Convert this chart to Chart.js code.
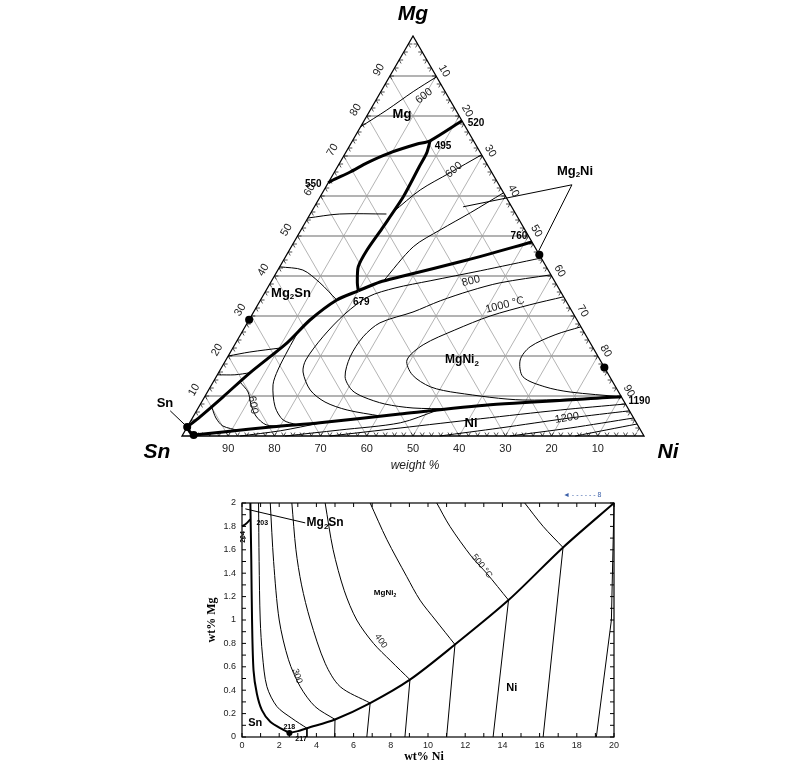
<!DOCTYPE html>
<html>
<head>
<meta charset="utf-8">
<script src="https://cdn.jsdelivr.net/npm/chart.js@4.4.1/dist/chart.umd.min.js"></script>
<style>
  body { margin: 0; background: #fff; }
  #wrap { position: relative; width: 810px; height: 775px; }
  canvas { position: absolute; left: 0; }
  #tern { top: 0; }
  #zoom { top: 480px; }
</style>
</head>
<body>
<div id="wrap">
  <canvas id="tern" width="810" height="480"></canvas>
  <canvas id="zoom" width="810" height="295"></canvas>
</div>
<script>
// ---------- ternary Mg-Ni-Sn, points are [wt% Mg, wt% Ni] ----------
const gridSteps = [10, 20, 30, 40, 50, 60, 70, 80, 90];

// thick phase boundaries (valleys)
const b550to520 = [[63.3,0],[64.0,0.7],[66.0,3.4],[68.3,5.9],[70.8,9.6],[73.0,14.4],[73.8,16.8],[78.8,21.2]];
const b495to679 = [[73.8,16.8],[70.7,17.6],[67.3,17.7],[59.8,18.0],[52.3,17.4],[46.5,16.8],[42.3,17.0],[38.3,18.8],[36.3,20.0]];
const b679to760 = [[36.3,20.0],[38.5,23.6],[39.8,27.3],[44.0,39.7],[48.5,51.5]];
const b679toSn = [[36.3,20.0],[34.0,16.5],[29.0,13.2],[23.3,11.1],[15.8,6.8],[9.8,4.0],[4.8,1.5],[2.25,0]];
const b1190toSn = [[9.8,90.2],[7.8,62.8],[5.5,44.4],[3.3,28.2],[2.3,18.6],[1.0,8.4],[0.25,2.4]];
const bSnCorner = [[2.25,0],[1.2,1.0],[0.25,2.4]];

// thin isotherms
const isoMg600 = [[77.3,0],[81.5,3.6],[86.1,7.0],[89.8,10.2]];
const isoSnA = [[54.5,0],[55.5,6.4],[55.5,16.5]];
const isoSnB = [[42.3,0],[41.5,5.4],[38.3,10.7],[34.0,16.5]];
const isoSnC = [[20.0,0],[21.0,4.2],[22.0,10.3]];
const isoSnD = [[15.3,0],[15.3,3.8],[15.8,6.8]];
const isoMg2NiA = [[56.0,17.7],[61.5,20.8],[65.8,25.1],[70.3,29.7]];
const isoMg2NiB = [[38.6,24.2],[47.3,26.4],[51.5,30.1],[55.8,34.5],[60.8,39.2]];
const isoU1 = [[44.5,55.5],[41.3,43.9],[38.8,34.3],[37.0,27.6],[34.8,22.9],[30.5,20.0],[24.8,18.1],[19.0,17.3],[16.0,18.2],[11.5,22.0],[8.5,26.7],[6.5,32.5],[5.0,40.4]];
const isoU2 = [[40.3,59.7],[38.3,49.7],[36.3,44.2],[33.8,39.0],[31.0,34.5],[28.3,28.7],[24.8,26.8],[19.8,26.5],[14.8,27.9],[11.5,31.0],[9.8,34.3],[8.0,39.9],[7.0,46.5],[6.8,54.5]];
const isoU3 = [[34.8,65.2],[32.8,58.9],[30.0,51.7],[26.5,45.8],[22.8,40.8],[19.0,39.2],[15.3,42.2],[12.3,47.6],[10.8,54.1],[9.0,69.3],[9.8,90.2]];
const isoU4 = [[27.3,72.7],[25.3,68.1],[22.3,64.2],[19.0,63.7],[14.8,66.4],[12.3,72.4],[11.0,78.5],[9.8,90.2]];
const isoS1 = [[7.0,3.0],[4.5,5.1],[2.5,7.6],[1.4,11.5]];
const isoS2 = [[13.5,5.8],[11.0,8.8],[8.0,10.9],[5.0,13.5],[2.8,16.8],[2.45,20.5]];
const isoS3 = [[26.0,12.1],[21.5,12.2],[16.5,12.5],[12.8,13.3],[7.3,16.5],[4.0,19.9],[2.8,23.5]];
const isoN1 = [[0,32.0],[2.0,46.2],[4.3,62.4],[6.5,78.6],[8.0,92.0]];
const isoN2 = [[0,55.8],[2.0,67.8],[4.5,81.7],[6.3,93.7]];
const isoN3 = [[0,71.0],[2.0,83.0],[4.5,95.5]];
const isoN4 = [[0,85.1],[3.0,97.0]];
const isoL1 = [[0,12.6],[1.3,20.6],[3.3,28.5]];
const isoL2 = [[0,22.3],[1.5,33.4],[3.3,45.6],[6.4,52.0]];

const leadMg2NiA = [[62.8,53.0],[57.3,32.2]];
const leadMg2NiB = [[62.8,53.0],[46.0,54.1]];
const leadSn = [[6.3,-5.7],[2.25,0]];
const phaseDots = [[29.05,0],[45.3,54.7],[17.15,82.85],[2.25,0],[0.25,2.4]];

// point labels: text, [Mg, Ni], pixel offset
const pointLabels = [
  ['520', [78.8,21.2], 14, 2], ['495', [73.8,16.8], 13, 5], ['550', [63.3,0], -15, 1],
  ['760', [48.5,51.5], -13, -6], ['679', [36.3,20.0], 3, 11], ['1190', [9.8,90.2], 18, 4]
];

// ---------- enlarged Sn corner, points are [wt% Ni, wt% Mg] ----------
const zLiqSn = [[0.45,2.0],[0.5,1.5],[0.54,1.0],[0.62,0.57],[0.8,0.37],[1.07,0.23],[1.52,0.13],[2.23,0.06],[2.55,0.035]];
const zLiqNi = [[2.55,0.035],[3.0,0.05],[3.49,0.075],[5.0,0.15],[6.89,0.29],[9.03,0.49],[11.45,0.79],[14.33,1.17],[17.26,1.62],[20,2.0]];
const zMg2Sn = [[0.0,1.8],[0.2,1.82],[0.45,1.86]];
const zLeader = [[0.18,1.95],[3.4,1.83]];
const zIso250 = [[0.89,2.0],[0.92,1.5],[0.98,1.0],[1.1,0.7],[1.34,0.43],[1.88,0.26],[2.68,0.16],[3.49,0.075]];
const zIso300 = [[1.52,2.0],[1.7,1.5],[2.0,1.0],[2.5,0.66],[3.13,0.43],[3.93,0.26],[5.0,0.15]];
const zIso350 = [[2.68,2.0],[2.9,1.6],[3.2,1.3],[3.67,1.0],[4.47,0.63],[5.28,0.43],[6.89,0.29]];
const zIso400 = [[4.47,2.0],[4.9,1.6],[5.5,1.25],[6.17,1.0],[7.07,0.8],[8.0,0.65],[9.03,0.49]];
const zIso450 = [[6.89,2.0],[7.78,1.69],[8.86,1.37],[9.57,1.17],[10.4,1.0],[11.45,0.79]];
const zIso500 = [[10.47,2.0],[11.18,1.8],[12.35,1.54],[13.15,1.4],[14.33,1.17]];
const zIso550 = [[15.2,2.0],[16.19,1.8],[17.26,1.62]];
const zTies = [
  [[2.55,0.035],[2.55,0]], [[3.49,0.075],[3.49,0]], [[5.0,0.15],[4.98,0]], [[6.89,0.29],[6.71,0]],
  [[9.03,0.49],[8.76,0]], [[11.45,0.79],[11.0,0]], [[14.33,1.17],[13.5,0]], [[17.26,1.62],[16.19,0]],
  [[20,2.0],[19.86,1.0],[19.05,0]]
];
const zDots = [[2.55,0.035]];

const SQ = Math.sqrt(3) / 2;
const tern = p => ({ x: p[1] + p[0] / 2, y: p[0] * SQ });
const xy = p => ({ x: p[0], y: p[1] });
const SANS = '"Liberation Sans", Arial, sans-serif';

function curve(pts, map, w, tension) {
  return { data: pts.map(map), showLine: true, borderColor: '#000', borderWidth: w,
           pointRadius: 0, tension: tension, clip: false, fill: false };
}

function txt(ctx, s, x, y, font, rot, align, color) {
  ctx.save();
  ctx.translate(x, y);
  if (rot) ctx.rotate(rot * Math.PI / 180);
  ctx.font = font;
  ctx.fillStyle = color || '#000';
  ctx.textAlign = align || 'center';
  ctx.textBaseline = 'middle';
  ctx.fillText(s, 0, 0);
  ctx.restore();
}

// chemical formula with subscripts at odd positions
function chem(ctx, parts, x, y, size) {
  const big = 'bold ' + size + 'px ' + SANS;
  const small = 'bold ' + Math.round(size * 0.65) + 'px ' + SANS;
  let total = 0;
  parts.forEach((p, i) => { ctx.font = i % 2 ? small : big; total += ctx.measureText(p).width; });
  let cx = x - total / 2;
  ctx.save();
  ctx.fillStyle = '#000';
  ctx.textBaseline = 'middle';
  ctx.textAlign = 'left';
  parts.forEach((p, i) => {
    ctx.font = i % 2 ? small : big;
    ctx.fillText(p, cx, i % 2 ? y + size * 0.3 : y);
    cx += ctx.measureText(p).width;
  });
  ctx.restore();
}

const ternPlugin = {
  id: 'ternGrid',
  beforeDatasetsDraw(chart) {
    const { ctx, scales: { x, y } } = chart;
    const P = (mg, ni) => [x.getPixelForValue(ni + mg / 2), y.getPixelForValue(mg * SQ)];
    const seg = (a, b, col, w) => {
      ctx.beginPath(); ctx.moveTo(a[0], a[1]); ctx.lineTo(b[0], b[1]);
      ctx.strokeStyle = col; ctx.lineWidth = w; ctx.stroke();
    };
    ctx.save();
    gridSteps.forEach(k => {
      seg(P(0, k), P(100 - k, k), '#ababab', 0.9);
      seg(P(0, 100 - k), P(100 - k, 0), '#ababab', 0.9);
    });
    gridSteps.forEach(k => seg(P(k, 0), P(k, 100 - k), '#9a9a9a', 1.4));
    // edge ticks
    for (let t = 2; t < 100; t += 2) {
      const L = 4, dx = L * 0.5, dy = L * SQ;
      let p = P(0, t);
      seg(p, [p[0] + dx, p[1] - dy], '#000', 0.7); seg(p, [p[0] - dx, p[1] - dy], '#000', 0.7);
      p = P(t, 0);
      seg(p, [p[0] + L, p[1]], '#000', 0.7); seg(p, [p[0] + dx, p[1] + dy], '#000', 0.7);
      p = P(t, 100 - t);
      seg(p, [p[0] - L, p[1]], '#000', 0.7); seg(p, [p[0] - dx, p[1] + dy], '#000', 0.7);
    }
    // triangle
    ctx.beginPath();
    const a = P(0, 0), b = P(0, 100), c = P(100, 0);
    ctx.moveTo(a[0], a[1]); ctx.lineTo(b[0], b[1]); ctx.lineTo(c[0], c[1]); ctx.closePath();
    ctx.strokeStyle = '#000'; ctx.lineWidth = 1.3; ctx.stroke();
    ctx.restore();
  },
  afterDatasetsDraw(chart) {
    const { ctx, scales: { x, y } } = chart;
    const P = (mg, ni) => [x.getPixelForValue(ni + mg / 2), y.getPixelForValue(mg * SQ)];
    const f11 = '11px ' + SANS;
    gridSteps.forEach(k => {
      let p = P(0, k); txt(ctx, String(100 - k), p[0], p[1] + 13, f11, 0, 'center', '#222');
      p = P(k, 0); txt(ctx, String(k), p[0] - 11, p[1] - 6, f11, -60, 'center', '#222');
      p = P(k, 100 - k); txt(ctx, String(100 - k), p[0] + 8, p[1] - 5, f11, 60, 'center', '#222');
    });
    pointLabels.forEach(([s, c, dx, dy]) => {
      const p = P(c[0], c[1]);
      txt(ctx, s, p[0] + dx, p[1] + dy, 'bold 10px ' + SANS);
    });
    const corner = 'italic bold 21px ' + SANS;
    txt(ctx, 'Mg', 413, 14, corner);
    txt(ctx, 'Sn', 157, 452, corner);
    txt(ctx, 'Ni', 668, 452, corner);
    txt(ctx, 'weight %', 415, 466, 'italic 12px ' + SANS, 0, 'center', '#222');
    txt(ctx, 'Mg', 402, 114, 'bold 13px ' + SANS);
    txt(ctx, 'Ni', 471, 423, 'bold 13px ' + SANS);
    txt(ctx, 'Sn', 165, 403, 'bold 13px ' + SANS);
    chem(ctx, ['Mg', '2', 'Ni'], 575, 171, 13);
    chem(ctx, ['Mg', '2', 'Sn'], 291, 293, 13);
    chem(ctx, ['MgNi', '2'], 462, 360, 12);
    const f10 = '11px ' + SANS;
    txt(ctx, '600', 424, 96, f10, -38, 'center', '#222');
    txt(ctx, '600', 454, 170, f10, -40, 'center', '#222');
    txt(ctx, '600', 253, 405, f10, 80, 'center', '#222');
    txt(ctx, '800', 471, 281, f10, -14, 'center', '#222');
    txt(ctx, '1000 \u00B0C', 505, 305, f10, -14, 'center', '#222');
    txt(ctx, '1200', 567, 418, f10, -10, 'center', '#222');
  }
};

const ternSets = [
  { data: phaseDots.map(tern), pointRadius: 4, pointBackgroundColor: '#000', pointBorderWidth: 0, showLine: false, clip: false },
  ...[b550to520, b495to679, b679to760, b679toSn, b1190toSn, bSnCorner].map(c => curve(c, tern, 3, 0.25)),
  ...[isoMg600, isoSnA, isoSnB, isoSnC, isoSnD, isoMg2NiA, isoMg2NiB, isoU1, isoU2, isoU3, isoU4,
      isoS1, isoS2, isoS3, isoN1, isoN2, isoN3, isoN4, isoL1, isoL2].map(c => curve(c, tern, 1, 0.3)),
  ...[leadMg2NiA, leadMg2NiB, leadSn].map(c => curve(c, tern, 1, 0))
];

new Chart(document.getElementById('tern'), {
  type: 'scatter',
  data: { datasets: ternSets },
  options: {
    responsive: false, animation: false, events: [],
    layout: { padding: { left: 182, right: 166, top: 36, bottom: 44 } },
    scales: {
      x: { type: 'linear', min: 0, max: 100, display: false },
      y: { type: 'linear', min: 0, max: 100 * SQ, display: false }
    },
    plugins: { legend: { display: false }, tooltip: { enabled: false } }
  },
  plugins: [ternPlugin]
});

// ---------- lower chart ----------
const zoomPlugin = {
  id: 'zoomDecor',
  afterDraw(chart) {
    const { ctx, chartArea: a, scales: { x, y } } = chart;
    const D = (X, Y) => [x.getPixelForValue(X), y.getPixelForValue(Y)];
    ctx.save();
    ctx.strokeStyle = '#000';
    ctx.lineWidth = 1.2;
    ctx.strokeRect(a.left, a.top, a.right - a.left, a.bottom - a.top);
    ctx.lineWidth = 1;
    ctx.beginPath();
    for (let i = 0; i <= 20; i++) {
      const px = x.getPixelForValue(i);
      ctx.moveTo(px, a.bottom); ctx.lineTo(px, a.bottom - 4);
      ctx.moveTo(px, a.top); ctx.lineTo(px, a.top + 4);
    }
    for (let j = 0; j <= 20; j++) {
      const py = y.getPixelForValue(j / 10);
      ctx.moveTo(a.left, py); ctx.lineTo(a.left + 4, py);
      ctx.moveTo(a.right, py); ctx.lineTo(a.right - 4, py);
    }
    ctx.stroke();
    ctx.restore();

    let p = D(4.47, 1.83); chem(ctx, ['Mg', '2', 'Sn'], p[0], p[1], 12);
    p = D(7.69, 1.23); chem(ctx, ['MgNi', '2'], p[0], p[1], 8);
    p = D(14.5, 0.42); txt(ctx, 'Ni', p[0], p[1], 'bold 11px ' + SANS);
    p = D(0.71, 0.12); txt(ctx, 'Sn', p[0], p[1], 'bold 11px ' + SANS);
    const f9 = '9px ' + SANS;
    p = D(2.97, 0.52); txt(ctx, '300', p[0], p[1], f9, 72, 'center', '#222');
    p = D(7.47, 0.82); txt(ctx, '400', p[0], p[1], f9, 55, 'center', '#222');
    p = D(12.9, 1.46); txt(ctx, '500 \u00B0C', p[0], p[1], f9, 52, 'center', '#222');
    const f7 = 'bold 7px ' + SANS;
    p = D(1.09, 1.83); txt(ctx, '203', p[0], p[1], f7);
    p = D(0.07, 1.71); txt(ctx, '204', p[0], p[1], f7, -90);
    p = D(2.54, 0.083); txt(ctx, '218', p[0], p[1], f7);
    p = D(3.18, -0.02); txt(ctx, '217', p[0], p[1], f7);
    txt(ctx, 'wt% Ni', 424, 277, 'bold 12px "Liberation Serif", serif');
    txt(ctx, 'wt% Mg', 212, 140, 'bold 12px "Liberation Serif", serif', -90);
    txt(ctx, '\u25C4 - - - - - - 8', 563, 15, '7px ' + SANS, 0, 'left', '#3a5fa8');
  }
};

const zoomSets = [
  { data: zDots.map(xy), pointRadius: 3, pointBackgroundColor: '#000', pointBorderWidth: 0, showLine: false },
  ...[zLiqSn, zLiqNi, zMg2Sn].map(c => curve(c, xy, 2, 0.3)),
  ...[zIso250, zIso300, zIso350, zIso400, zIso450, zIso500, zIso550].map(c => curve(c, xy, 1, 0.3)),
  ...zTies.map(c => curve(c, xy, 1, 0)),
  curve(zLeader, xy, 1, 0)
];

const tickFont = { family: '"Liberation Sans", Arial, sans-serif', size: 9 };
new Chart(document.getElementById('zoom'), {
  type: 'scatter',
  data: { datasets: zoomSets },
  options: {
    responsive: false, animation: false, events: [],
    layout: { padding: { left: 0, right: 196, top: 23, bottom: 0 } },
    scales: {
      x: {
        type: 'linear', min: 0, max: 20,
        ticks: { stepSize: 2, autoSkip: false, maxRotation: 0, padding: 3, color: '#222', font: tickFont },
        grid: { display: false, drawTicks: false }, border: { display: false },
        afterFit(s) { s.height = 38; }
      },
      y: {
        type: 'linear', min: 0, max: 2,
        ticks: { stepSize: 0.2, padding: 6, color: '#222', font: tickFont,
                 callback: v => String(+v.toFixed(1)) },
        grid: { display: false, drawTicks: false }, border: { display: false },
        afterFit(s) { s.width = 242; }
      }
    },
    plugins: { legend: { display: false }, tooltip: { enabled: false } }
  },
  plugins: [zoomPlugin]
});
</script>
</body>
</html>
